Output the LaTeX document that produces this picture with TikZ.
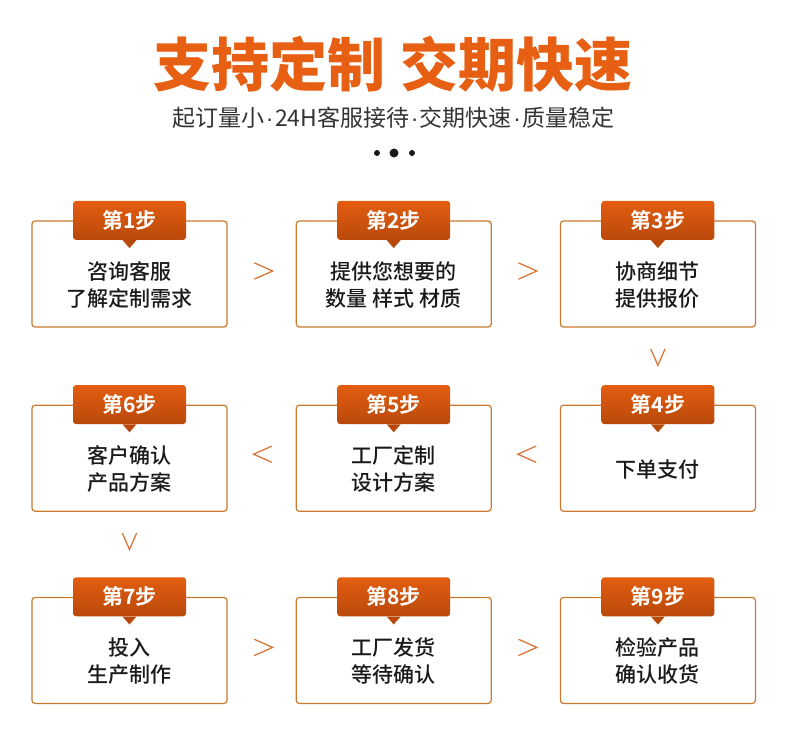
\documentclass[tikz,border=0pt]{standalone}
\usepackage{fontspec}
\setmainfont{Noto Sans CJK SC}[BoldFont={Noto Sans CJK SC Bold}]
\newfontfamily\heavyfont{Noto Sans CJK SC Black}
\newfontfamily\midfont{Noto Sans CJK SC Medium}
\newfontfamily\latinfont{Liberation Sans}
\newcommand{\middot}{{\latinfont\kern1.5pt·\kern1.5pt}}
\usetikzlibrary{positioning,calc}

\definecolor{titleorange}{HTML}{E65F12}
\definecolor{tabtop}{HTML}{E35D10}
\definecolor{tabbottom}{HTML}{B9490A}
\definecolor{boxline}{HTML}{CC7A2E}
\definecolor{chevc}{HTML}{D9773A}
\definecolor{inkc}{HTML}{1A1A1A}
\definecolor{subc}{HTML}{333333}

\begin{document}
\begin{tikzpicture}[
  x=1pt, y=-1pt,
  title/.style={font=\heavyfont\fontsize{58}{58}\selectfont, text=titleorange, inner sep=0pt},
  subtitle/.style={font=\fontsize{23}{23}\selectfont, text=subc, inner sep=0pt},
  stepbox/.style={draw=boxline, line width=1.2pt, rounded corners=3pt, fill=white, minimum width=195pt, minimum height=106pt, inner sep=0pt},
  tab/.style={rounded corners=3pt, top color=tabtop, bottom color=tabbottom, minimum width=113pt, minimum height=39pt, inner sep=0pt, text=white, font=\bfseries\fontsize{21}{21}\selectfont},
  steptext/.style={align=center, text=inkc, font=\midfont\fontsize{21}{27}\selectfont},
  chev/.style={draw=chevc, line width=1.3pt, line cap=round, line join=miter}
]
\useasboundingbox (0,0) rectangle (790,749);

\node[title] (title) at (393,64) {支持定制\hspace{15pt}交期快速};
\node[subtitle] (sub) at (393.5,118) {起订量小\middot 24H客服接待\middot 交期快速\middot 质量稳定};
\fill[inkc] (377,153) circle (3pt) (394,153) circle (4.5pt) (412,153) circle (3pt);

\node[stepbox] (s1) at (129.5,274) {};
\node[stepbox, right=68pt of s1] (s2) {};
\node[stepbox, right=68pt of s2] (s3) {};
\node[stepbox, below=77pt of s3] (s4) {};
\node[stepbox, left=68pt of s4] (s5) {};
\node[stepbox, left=68pt of s5] (s6) {};
\node[stepbox, below=85pt of s6] (s7) {};
\node[stepbox, right=68pt of s7] (s8) {};
\node[stepbox, right=68pt of s8] (s9) {};

\foreach \i/\txt in {1/{咨询客服\\了解定制需求}, 2/{提供您想要的\\数量 样式 材质}, 3/{协商细节\\提供报价},
  4/{下单支付}, 5/{工厂定制\\设计方案}, 6/{客户确认\\产品方案},
  7/{投入\\生产制作}, 8/{工厂发货\\等待确认}, 9/{检验产品\\确认收货}} {
  \node[tab] (k\i) at (s\i.north) {第\i 步};
  \fill[tabbottom] ([xshift=-7pt]k\i.south) -- ([xshift=7pt]k\i.south) -- ([yshift=-8pt]k\i.south) -- cycle;
  \node[steptext] (t\i) at ([yshift=-11pt]s\i.center) {\txt};
}

\draw[chev] ($(s1.east)!.5!(s2.west)$) ++(-7,-11) -- ++(18,8) -- ++(-18,8);
\draw[chev] ($(s2.east)!.5!(s3.west)$) ++(-7,-11) -- ++(18,8) -- ++(-18,8);
\draw[chev] ($(s3.south)!.5!(k4.north)$) ++(-7,-7) -- ++(7,16) -- ++(7,-16);
\draw[chev] ($(s4.west)!.5!(s5.east)$) ++(10,-12) -- ++(-18,8) -- ++(18,8);
\draw[chev] ($(s5.west)!.5!(s6.east)$) ++(10,-12) -- ++(-18,8) -- ++(18,8);
\draw[chev] ($(s6.south)!.5!(k7.north)$) ++(-7,-11) -- ++(7,16) -- ++(7,-16);
\draw[chev] ($(s7.east)!.5!(s8.west)$) ++(-7,-11) -- ++(18,8) -- ++(-18,8);
\draw[chev] ($(s8.east)!.5!(s9.west)$) ++(-7,-11) -- ++(18,8) -- ++(-18,8);

\end{tikzpicture}
\end{document}
